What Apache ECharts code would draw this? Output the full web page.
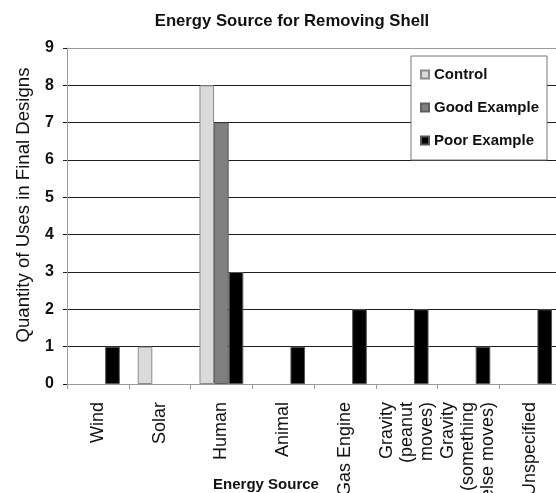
<!DOCTYPE html>
<html>
<head>
<meta charset="utf-8">
<script src="https://cdn.jsdelivr.net/npm/echarts@6/dist/echarts.min.js"></script>
<style>
  html, body { margin: 0; padding: 0; background: #fff; }
  #chart { width: 556px; height: 493px; }
</style>
</head>
<body>
<div id="chart"></div>
<script>
// Energy sources named in the final shell-removal designs
const categories = [
  'Wind', 'Solar', 'Human', 'Animal', 'Gas Engine',
  'Gravity\n(peanut\nmoves)', 'Gravity\n(something\nelse moves)', 'Unspecified'
];
const control = [0, 1, 8, 0, 0, 0, 0, 0];
const goodExample = [0, 0, 7, 0, 0, 0, 0, 0];
const poorExample = [1, 0, 3, 1, 2, 2, 1, 2];
const yTicks = [0, 1, 2, 3, 4, 5, 6, 7, 8, 9];

const sans = '"Liberation Sans", Arial, sans-serif';

// dark rules at 1..8, lighter frame lines at 0 and 9
const gridColors = yTicks.map((v, i) => (i === 0 || i === yTicks.length - 1) ? '#9a9a9a' : '#1e1e1e');

const chart = echarts.init(document.getElementById('chart'), null, { renderer: 'canvas' });

// a zero count leaves its slot empty rather than drawing a flat outline
function bar(name, data, fill, edge) {
  return {
    name: name,
    type: 'bar',
    data: data.map(v => (v === 0 ? '-' : v)),
    barGap: '0%',
    barCategoryGap: '29%',
    itemStyle: { color: fill, borderColor: edge, borderWidth: 1 },
    emphasis: { disabled: true }
  };
}

chart.setOption({
  animation: false,
  backgroundColor: '#fff',
  title: {
    text: 'Energy Source for Removing Shell',
    left: 287,
    textAlign: 'center',
    top: 8,
    textStyle: { fontFamily: sans, fontWeight: 'bold', fontSize: 16.7, color: '#111' }
  },
  legend: {
    orient: 'vertical',
    left: 411,
    top: 56,
    backgroundColor: '#fff',
    borderColor: '#777',
    borderWidth: 1,
    borderRadius: 0,
    padding: [11, 8, 12, 9],
    itemWidth: 8,
    itemHeight: 8,
    itemGap: 18,
    icon: 'rect',
    textStyle: { fontFamily: sans, fontWeight: 'bold', fontSize: 15, color: '#111' },
    data: ['Control', 'Good Example', 'Poor Example']
  },
  grid: { left: 67, top: 48, width: 494, bottom: 109, containLabel: false, outerBoundsMode: 'none' },
  xAxis: {
    type: 'category',
    data: categories,
    name: 'Energy Source',
    nameLocation: 'middle',
    nameGap: 93,
    nameMoveOverlap: false,
    nameTextStyle: { fontFamily: sans, fontWeight: 'bold', fontSize: 15, color: '#111', padding: [0, 96, 0, 0] },
    axisLine: { show: true, lineStyle: { color: '#9a9a9a', width: 1 } },
    axisTick: { show: true, alignWithLabel: false, length: 5, lineStyle: { color: '#9a9a9a' } },
    axisLabel: {
      rotate: 90,
      interval: 0,
      margin: 18,
      fontFamily: sans,
      fontSize: 18,
      lineHeight: 20,
      color: '#111'
    },
    splitLine: { show: false }
  },
  yAxis: {
    type: 'value',
    min: 0,
    max: 9,
    interval: 1,
    name: 'Quantity of Uses in Final Designs',
    nameLocation: 'middle',
    nameGap: 34,
    nameMoveOverlap: false,
    nameTextStyle: { fontFamily: sans, fontSize: 18.6, color: '#111', padding: [0, 0, 0, 22] },
    axisLine: { show: true, lineStyle: { color: '#9a9a9a', width: 1 } },
    axisTick: { show: true, length: 4, lineStyle: { color: '#1e1e1e' } },
    axisLabel: {
      margin: 13,
      fontFamily: sans,
      fontWeight: 'bold',
      fontSize: 16,
      color: '#111',
      formatter: v => yTicks.includes(v) ? String(v) : ''
    },
    splitLine: { show: true, lineStyle: { color: gridColors, width: 1 } }
  },
  series: [
    bar('Control', control, '#dadada', '#8c8c8c'),
    bar('Good Example', goodExample, '#808080', '#5e5e5e'),
    bar('Poor Example', poorExample, '#000000', '#555555')
  ]
});
</script>
</body>
</html>
